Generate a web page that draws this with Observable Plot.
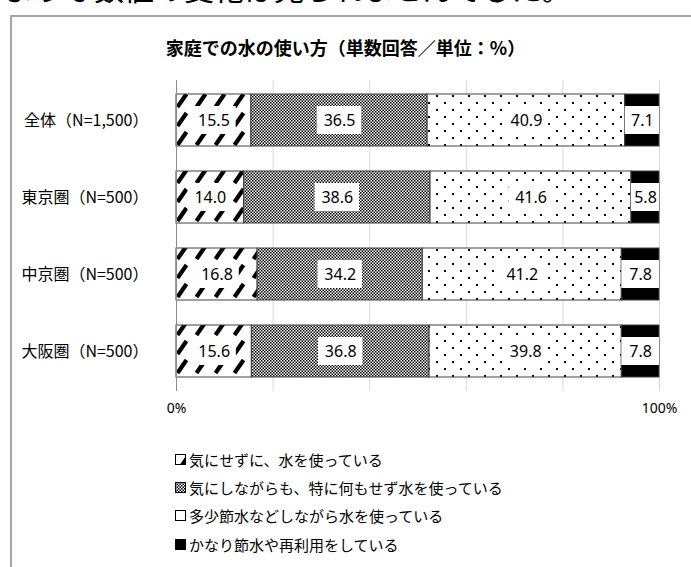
<!DOCTYPE html>
<html lang="ja">
<head>
<meta charset="utf-8">
<script src="https://cdn.jsdelivr.net/npm/d3@7"></script>
<script src="https://cdn.jsdelivr.net/npm/@observablehq/plot@0.6"></script>
<style>
  html, body { margin: 0; padding: 0; background: #fff; }
  #page {
    position: relative; width: 691px; height: 567px; overflow: hidden;
    font-family: "Noto Sans CJK JP", "Noto Sans", sans-serif; color: #000;
  }
  .lead {
    position: absolute; left: 4px; top: -28px; font-size: 30px; line-height: 30px;
    white-space: nowrap;
  }
  .frame {
    position: absolute; left: 10px; top: 15px; width: 720px; height: 600px;
    border-top: 2px solid #a6a6a6; border-left: 2px solid #a6a6a6; box-sizing: border-box;
  }
  .title {
    position: absolute; left: 0; top: 35px; width: 691px; text-align: center;
    font-size: 18px; font-weight: bold; line-height: 24px; white-space: nowrap;
  }
  #chart { position: absolute; left: 0; top: 0; }
  .legend { position: absolute; left: 175px; top: 445px; font-size: 15px; }
  .legend .item { display: flex; align-items: center; height: 28.3px; white-space: nowrap; }
  .legend svg { margin-right: 3px; }
</style>
</head>
<body>
<div id="page">
  <div class="lead">ような数値の変化は見られませんでした。</div>
  <div class="frame"></div>
  <svg width="0" height="0" style="position:absolute">
    <defs>
      <pattern id="hatch" patternUnits="userSpaceOnUse" width="19" height="19" x="176" y="91">
        <rect width="19" height="19" fill="#fff"/>
        <path d="M1.5,16 L10.5,3" stroke="#000" stroke-width="4.2"/>
      </pattern>
      <pattern id="checker" patternUnits="userSpaceOnUse" width="3" height="3">
        <rect width="3" height="3" fill="#fff"/>
        <rect width="1.5" height="1.5" fill="#000"/>
        <rect x="1.5" y="1.5" width="1.5" height="1.5" fill="#000"/>
      </pattern>
      <pattern id="dots" patternUnits="userSpaceOnUse" width="16" height="14" x="176" y="92">
        <rect width="16" height="14" fill="#fff"/>
        <rect x="4" y="3" width="2" height="2" fill="#000"/>
        <rect x="12" y="10" width="2" height="2" fill="#000"/>
      </pattern>
    </defs>
  </svg>
  <div class="title">家庭での水の使い方（単数回答／単位：%）</div>
  <div id="chart"></div>
  <div class="legend" id="legend"></div>
</div>
<script>
// Survey: how households use water (single answer, %)
const regions = ["全体（N=1,500）", "東京圏（N=500）", "中京圏（N=500）", "大阪圏（N=500）"];
const answers = [
  "気にせずに、水を使っている",
  "気にしながらも、特に何もせず水を使っている",
  "多少節水などしながら水を使っている",
  "かなり節水や再利用をしている"
];
const carefree    = [15.5, 14.0, 16.8, 15.6];
const mindful     = [36.5, 38.6, 34.2, 36.8];
const someSaving  = [40.9, 41.6, 41.2, 39.8];
const heavySaving = [7.1, 5.8, 7.8, 7.8];
const xTickValues = [0, 100];
const gridValues  = [20, 40, 60, 80, 100];

const answerFills = ["url(#hatch)", "url(#checker)", "url(#dots)", "#000"];
const series = [carefree, mindful, someSaving, heavySaving];

// Stack each region's answers left to right
const rows = [];
regions.forEach((region, i) => {
  let start = 0;
  series.forEach((values, k) => {
    const v = values[i];
    rows.push({region, answer: answers[k], value: v, x1: start, x2: start + v, mid: start + v / 2});
    start += v;
  });
});

// Half-width of the white label plate, in percentage points (never wider than its segment)
const plateHalf = 4.6;

const chart = Plot.plot({
  width: 691,
  height: 430,
  marginTop: 80,
  marginBottom: 39,
  marginLeft: 176,
  marginRight: 32,
  style: {background: "none", fontFamily: "'Noto Sans CJK JP', 'Noto Sans', sans-serif", color: "#000"},
  x: {domain: [0, 100], axis: null},
  y: {domain: regions, axis: null, paddingInner: 0.32, paddingOuter: 0.16},
  color: {domain: answers, range: answerFills},
  marks: [
    Plot.ruleX(gridValues, {stroke: "#d9d9d9", strokeWidth: 1}),
    Plot.barX(rows, {x1: "x1", x2: "x2", y: "region", fill: "answer", stroke: "#404040", strokeWidth: 1}),
    Plot.barX(rows, {
      x1: d => d.mid - Math.min(plateHalf, d.value / 2),
      x2: d => d.mid + Math.min(plateHalf, d.value / 2),
      y: "region", fill: "#fff", insetTop: 12, insetBottom: 12
    }),
    Plot.text(rows, {
      x: "mid", y: "region", text: d => d.value.toFixed(1),
      fontSize: 16, fill: "#000", fontFamily: "'Noto Sans', sans-serif"
    }),
    Plot.ruleX([0], {stroke: "#8c8c8c", strokeWidth: 1}),
    Plot.text(regions, {
      y: d => d, frameAnchor: "left", textAnchor: "end", dx: -28,
      fontSize: 16, fill: "#000"
    }),
    Plot.text(xTickValues, {
      x: d => d, frameAnchor: "bottom", dy: 21, text: d => `${d}%`,
      fontSize: 14, fill: "#000", fontFamily: "'Noto Sans', sans-serif"
    })
  ]
});
document.getElementById("chart").append(chart);

// Legend: one line per answer with a patterned swatch
const legend = d3.select("#legend");
answers.forEach((answer, k) => {
  const item = legend.append("div").attr("class", "item");
  const sw = item.append("svg").attr("width", 11).attr("height", 11);
  sw.append("rect").attr("x", 0.5).attr("y", 0.5).attr("width", 10).attr("height", 10)
    .attr("fill", answerFills[k]).attr("stroke", "#000").attr("stroke-width", 1);
  item.append("span").text(answer);
});
</script>
</body>
</html>
